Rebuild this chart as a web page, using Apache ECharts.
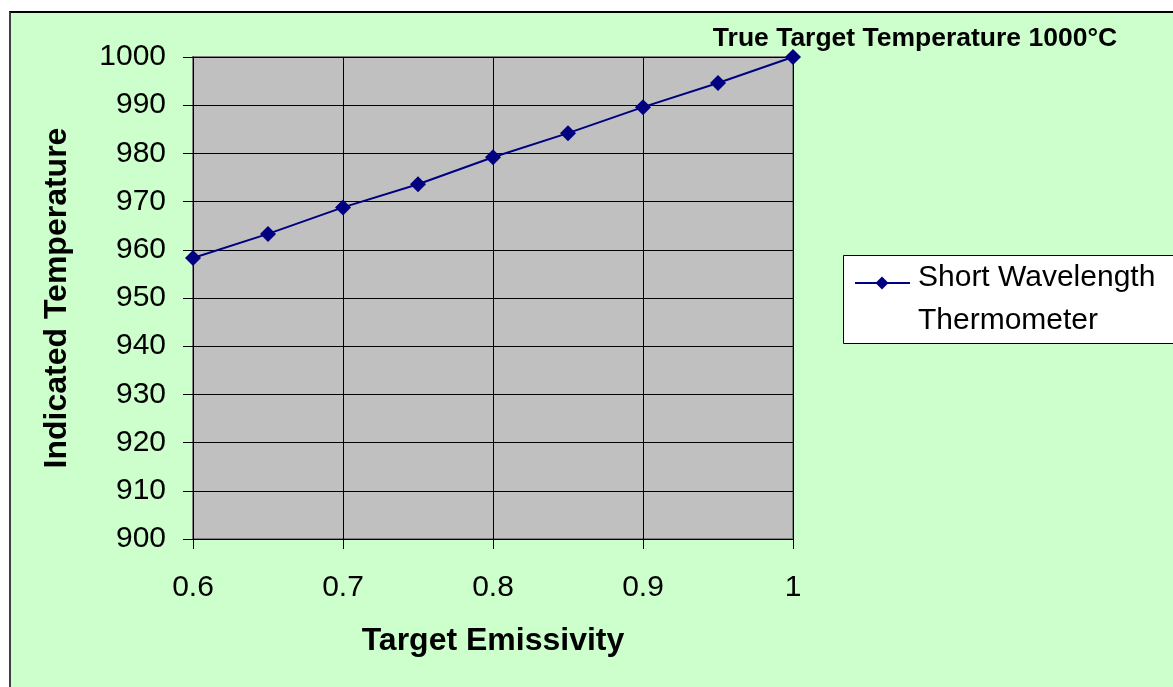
<!DOCTYPE html>
<html>
<head>
<meta charset="utf-8">
<script src="https://cdn.jsdelivr.net/npm/echarts@6/dist/echarts.min.js"></script>
<style>
  html, body { margin: 0; padding: 0; background: #ffffff; }
  #frame {
    position: absolute; left: 9px; top: 11px; width: 1200px; height: 700px;
    background: #CCFFCC; border-top: 2px solid #000000; border-left: 2px solid #404040;
  }
  #chart { position: absolute; left: 0; top: 0; width: 1173px; height: 687px; }
</style>
</head>
<body>
<div id="frame"></div>
<div id="chart"></div>
<script>
// Indicated temperature of a short-wavelength thermometer vs. target emissivity
const emissivity = [0.6, 0.65, 0.7, 0.75, 0.8, 0.85, 0.9, 0.95, 1.0];
const indicatedTemp = [958.3, 963.3, 968.8, 973.6, 979.2, 984.2, 989.6, 994.6, 1000];
const seriesName = 'Short Wavelength\nThermometer';
const annotation = 'True Target Temperature 1000°C';
const xTitle = 'Target Emissivity';
const yTitle = 'Indicated Temperature';

const FONT = '"Liberation Sans", Arial, sans-serif';
const NAVY = '#000080';
const lastIdx = emissivity.length - 1;

const chart = echarts.init(document.getElementById('chart'), null, { renderer: 'canvas' });

chart.setOption({
  animation: false,
  backgroundColor: 'transparent',
  textStyle: { fontFamily: FONT },
  grid: {
    left: 193, right: 380, top: 57, bottom: 148,
    show: true, backgroundColor: '#C0C0C0', borderColor: '#808080', borderWidth: 2
  },
  xAxis: {
    type: 'value', min: 0.6, max: 1.0, interval: 0.1,
    name: xTitle, nameLocation: 'middle', nameGap: 86,
    nameTextStyle: { fontSize: 32, fontWeight: 'bold', color: '#000', fontFamily: FONT },
    axisLine: { show: true, lineStyle: { color: '#000', width: 1 } },
    axisTick: { show: true, length: 10, lineStyle: { color: '#000' } },
    axisLabel: {
      margin: 34, fontSize: 30, color: '#000', fontFamily: FONT,
      formatter: v => String(Math.round(v * 10) / 10)
    },
    splitLine: { show: true, lineStyle: { color: '#000', width: 1 } }
  },
  yAxis: {
    type: 'value', min: 900, max: 1000, interval: 10,
    name: yTitle, nameLocation: 'middle', nameGap: 120, nameRotate: 90,
    nameTextStyle: { fontSize: 32, fontWeight: 'bold', color: '#000', fontFamily: FONT },
    axisLine: { show: true, lineStyle: { color: '#000', width: 1 } },
    axisTick: { show: true, length: 10, lineStyle: { color: '#000' } },
    axisLabel: { margin: 27, fontSize: 30, color: '#000', fontFamily: FONT,
                 formatter: v => String(v) },
    splitLine: { show: true, lineStyle: { color: '#000', width: 1 } }
  },
  series: [{
    type: 'line',
    name: seriesName,
    data: emissivity.map((e, i) => [e, indicatedTemp[i]]),
    symbol: 'diamond',
    symbolSize: 16,
    lineStyle: { color: NAVY, width: 2 },
    itemStyle: { color: NAVY },
    label: {
      show: true,
      position: 'top',
      distance: 0,
      offset: [122, 3],
      fontSize: 26.5,
      fontWeight: 'bold',
      color: '#000',
      fontFamily: FONT,
      formatter: p => (p.dataIndex === lastIdx ? annotation : '')
    },
    clip: false
  }],
  graphic: [{
    type: 'group',
    left: 843, top: 255,
    children: [
      { type: 'rect', shape: { x: 0.5, y: 0.5, width: 340, height: 88 },
        style: { fill: '#ffffff', stroke: '#000000', lineWidth: 1 } },
      { type: 'line', shape: { x1: 12, y1: 28, x2: 67, y2: 28 },
        style: { stroke: NAVY, lineWidth: 2 } },
      { type: 'polygon', shape: { points: [[39, 21.5], [45.5, 28], [39, 34.5], [32.5, 28]] },
        style: { fill: NAVY } },
      { type: 'text', x: 75, y: 1,
        style: { text: seriesName, fontSize: 30, lineHeight: 43, fontFamily: FONT,
                 fill: '#000', verticalAlign: 'top', align: 'left' } }
    ]
  }]
});
</script>
</body>
</html>
